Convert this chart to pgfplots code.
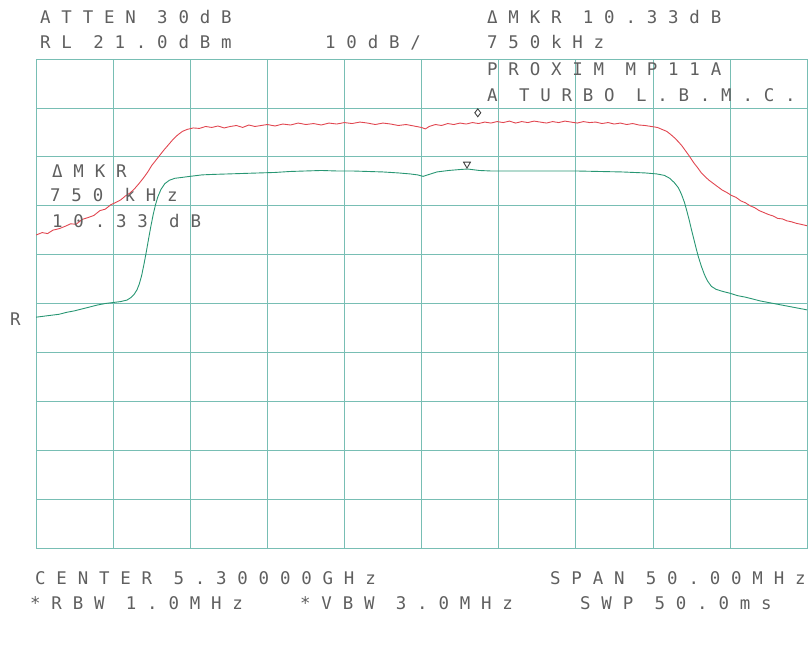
\documentclass[border=0pt]{standalone}
\usepackage{pgfplots}
\pgfplotsset{compat=1.18}
\usepackage{fontspec}
\newfontfamily\plt{DejaVu Sans Mono}[LetterSpace=62]
\definecolor{gridc}{RGB}{120,190,180}
\definecolor{redtr}{RGB}{225,70,80}
\definecolor{grntr}{RGB}{40,150,115}
\definecolor{txt}{RGB}{95,95,95}

\begin{document}
\begin{tikzpicture}
\begin{axis}[
    at={(36bp,115bp)}, anchor=south west,
    scale only axis,
    width=771bp, height=489bp,
    xmin=0, xmax=10,
    ymin=0, ymax=10,
    xtick={0,...,10}, ytick={0,...,10},
    xticklabels={}, yticklabels={},
    major tick length=0pt,
    grid=major,
    grid style={gridc, line width=0.6pt},
    axis line style={gridc, line width=0.8pt},
]
% trace A (max hold), red
\addplot[redtr, line width=0.9pt] coordinates {
(0.00,6.40) (0.08,6.45) (0.15,6.43) (0.22,6.50) (0.30,6.53) (0.38,6.58)
(0.45,6.63) (0.52,6.62) (0.60,6.72) (0.68,6.76) (0.75,6.80) (0.83,6.90)
(0.90,6.93) (0.97,7.02) (1.04,7.07) (1.10,7.12) (1.16,7.20) (1.22,7.26)
(1.28,7.35) (1.34,7.46) (1.40,7.58) (1.45,7.69) (1.50,7.82) (1.55,7.92)
(1.60,8.02) (1.66,8.14) (1.72,8.25) (1.78,8.36) (1.84,8.45) (1.90,8.52)
(1.96,8.56) (2.04,8.59) (2.12,8.58) (2.20,8.62) (2.28,8.60) (2.36,8.63)
(2.44,8.59) (2.52,8.62) (2.60,8.64) (2.68,8.60) (2.76,8.65) (2.84,8.62)
(2.92,8.64) (3.00,8.66) (3.10,8.63) (3.20,8.67) (3.30,8.65) (3.40,8.69)
(3.50,8.66) (3.60,8.68) (3.70,8.65) (3.80,8.69) (3.90,8.67) (4.00,8.70)
(4.10,8.68) (4.20,8.71) (4.30,8.69) (4.40,8.66) (4.50,8.69) (4.60,8.67)
(4.70,8.64) (4.80,8.66) (4.90,8.63) (5.00,8.60) (5.05,8.57) (5.10,8.62)
(5.18,8.66) (5.26,8.64) (5.34,8.68) (5.42,8.66) (5.50,8.69) (5.58,8.67)
(5.66,8.70) (5.74,8.68) (5.82,8.71) (5.90,8.69) (5.98,8.72) (6.06,8.70)
(6.14,8.73) (6.22,8.69) (6.30,8.72) (6.38,8.70) (6.46,8.73) (6.54,8.71)
(6.62,8.69) (6.70,8.72) (6.78,8.70) (6.86,8.73) (6.94,8.71) (7.02,8.69)
(7.10,8.72) (7.18,8.70) (7.26,8.71) (7.34,8.68) (7.42,8.70) (7.50,8.67)
(7.58,8.69) (7.66,8.66) (7.74,8.68) (7.82,8.65) (7.90,8.64) (7.98,8.62)
(8.06,8.60) (8.12,8.56) (8.18,8.52) (8.23,8.46) (8.28,8.39) (8.33,8.31)
(8.38,8.22) (8.43,8.11) (8.48,8.00) (8.53,7.88) (8.58,7.78) (8.63,7.67)
(8.68,7.59) (8.73,7.52) (8.78,7.46) (8.84,7.39) (8.90,7.32) (8.96,7.27)
(9.02,7.21) (9.08,7.17) (9.14,7.10) (9.20,7.06) (9.26,7.00) (9.32,6.96)
(9.38,6.90) (9.44,6.86) (9.50,6.82) (9.56,6.79) (9.62,6.74) (9.68,6.73)
(9.74,6.69) (9.80,6.67) (9.86,6.64) (9.92,6.62) (10.00,6.59)
};
% trace B, green
\addplot[grntr, line width=0.9pt] coordinates {
(0.00,4.72) (0.10,4.74) (0.20,4.76) (0.30,4.78) (0.40,4.82) (0.50,4.85)
(0.60,4.89) (0.70,4.93) (0.80,4.97) (0.90,5.00) (1.00,5.02) (1.10,5.04)
(1.18,5.07) (1.23,5.12) (1.27,5.18) (1.31,5.28) (1.34,5.40) (1.37,5.57)
(1.40,5.80) (1.43,6.05) (1.46,6.32) (1.49,6.58) (1.52,6.82) (1.55,7.02)
(1.58,7.18) (1.62,7.33) (1.67,7.45) (1.73,7.52) (1.80,7.56) (1.90,7.58)
(2.00,7.60) (2.15,7.63) (2.30,7.64) (2.50,7.65) (2.70,7.66) (2.90,7.67)
(3.10,7.68) (3.30,7.70) (3.50,7.71) (3.70,7.72) (3.90,7.71) (4.10,7.71)
(4.30,7.70) (4.50,7.69) (4.70,7.67) (4.85,7.65) (4.95,7.63) (5.02,7.60)
(5.10,7.64) (5.20,7.69) (5.35,7.72) (5.50,7.74) (5.60,7.75) (5.75,7.72)
(5.90,7.71) (6.10,7.71) (6.40,7.71) (6.70,7.71) (7.00,7.71) (7.30,7.70)
(7.60,7.69) (7.90,7.67) (8.05,7.65) (8.15,7.62) (8.22,7.56) (8.28,7.47)
(8.33,7.37) (8.37,7.24) (8.41,7.07) (8.44,6.90) (8.47,6.72) (8.50,6.52)
(8.53,6.33) (8.56,6.14) (8.59,5.96) (8.63,5.76) (8.67,5.59) (8.71,5.46)
(8.76,5.35) (8.82,5.29) (8.90,5.25) (9.00,5.21) (9.10,5.16) (9.20,5.13)
(9.30,5.09) (9.40,5.05) (9.50,5.02) (9.60,4.99) (9.70,4.96) (9.80,4.93)
(9.90,4.90) (10.00,4.87)
};
% markers
\addplot[only marks, mark=diamond, mark size=4pt, mark options={black!75, line width=0.9pt}] coordinates {(5.73,8.90)};
\addplot[only marks, mark=triangle, mark size=4pt, mark options={black!75, line width=0.9pt, rotate=180}] coordinates {(5.59,7.85)};
\end{axis}
\begin{scope}[every node/.style={anchor=base west, inner sep=0pt, text=txt, font=\plt\fontsize{17.5}{19}\selectfont}]
\node at (40bp,639bp) {ATTEN 30dB};
\node at (40bp,614bp) {RL 21.0dBm};
\node at (325bp,614bp) {10dB/};
\node at (487bp,639bp) {ΔMKR 10.33dB};
\node at (487bp,614bp) {750kHz};
\node at (487bp,587bp) {PROXIM MP11A};
\node at (487bp,561bp) {A TURBO L.B.M.C.};
\node at (52bp,485bp) {ΔMKR};
\node at (50bp,461bp) {750 kHz};
\node at (52bp,435bp) {10.33 dB};
\node at (10bp,337bp) {R};
\node at (35bp,78bp) {CENTER 5.30000GHz};
\node at (550bp,78bp) {SPAN 50.00MHz};
\node at (30bp,53bp) {*RBW 1.0MHz};
\node at (300bp,53bp) {*VBW 3.0MHz};
\node at (580bp,53bp) {SWP 50.0ms};
\end{scope}
\pgfresetboundingbox
\useasboundingbox (0,0) rectangle (811bp,663bp);
\end{tikzpicture}
\end{document}
